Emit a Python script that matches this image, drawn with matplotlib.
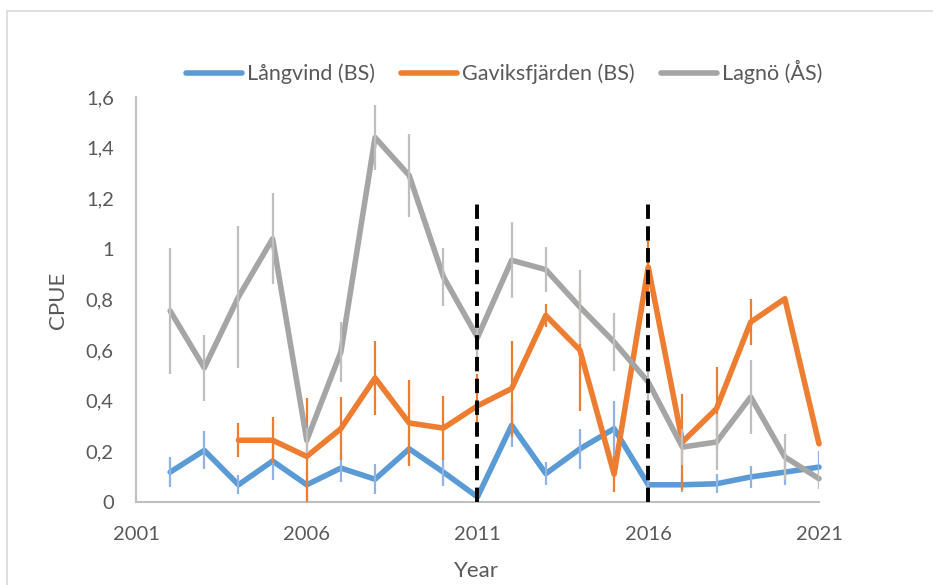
import numpy as np
import matplotlib
matplotlib.use("Agg")
import matplotlib.pyplot as plt
from matplotlib.patches import Rectangle

nan = np.nan
years = list(range(2002, 2022))
langvind = [0.118, 0.204, 0.068, 0.162, 0.068, 0.134, 0.09, 0.21, 0.118, 0.02,
            0.303, 0.112, 0.21, 0.29, 0.068, 0.068, 0.072, 0.099, 0.118, 0.138]
langvind_err = [0.06, 0.075, 0.038, 0.075, 0.05, 0.056, 0.06, 0.06, 0.055, 0.03,
                0.085, 0.045, 0.08, 0.11, 0.03, 0.03, 0.038, 0.043, 0.05, 0.065]
gaviks = [nan, nan, 0.244, 0.244, 0.18, 0.29, 0.49, 0.312, 0.292, 0.38,
          0.448, 0.737, 0.6, 0.11, 0.928, 0.237, 0.369, 0.711, 0.803, 0.23]
gaviks_err = [nan, nan, 0.067, 0.09, 0.23, 0.125, 0.145, 0.17, 0.125, 0.125,
              0.19, 0.045, 0.24, 0.07, 0.105, 0.19, 0.165, 0.09, 0.0, 0.0]
lagno = [0.755, 0.53, 0.81, 1.04, 0.244, 0.593, 1.44, 1.29, 0.89, 0.65,
         0.955, 0.918, 0.77, 0.632, 0.474, 0.217, 0.237, 0.415, 0.178, 0.092]
lagno_err = [0.25, 0.13, 0.28, 0.18, 0.05, 0.12, 0.13, 0.165, 0.115, 0.08,
             0.15, 0.09, 0.145, 0.115, 0.08, 0.07, 0.11, 0.145, 0.09, 0.04]
series_names = ["Långvind (BS)", "Gaviksfjärden (BS)", "Lagnö (ÅS)"]
period_lines = [2011, 2016]
xticks = [2001, 2006, 2011, 2016, 2021]
yticks = [0, 0.2, 0.4, 0.6, 0.8, 1.0, 1.2, 1.4, 1.6]
ytick_labels = ["0", "0,2", "0,4", "0,6", "0,8", "1", "1,2", "1,4", "1,6"]

plt.rcParams['font.family'] = ['Lato', 'DejaVu Sans']
W, H = 933, 585
fig = plt.figure(figsize=(W / 100, H / 100), dpi=100)
fig.patch.set_facecolor('white')
fig.add_artist(Rectangle((7 / W, -0.05), 1.1, 1 - 11 / H + 0.05, transform=fig.transFigure,
                         fill=False, edgecolor='#D9D9D9', linewidth=1.2))

ax = fig.add_axes([136 / W, 1 - 502 / H, (819 - 136) / W, (502 - 97) / H])
ax.set_xlim(2001, 2021)
ax.set_ylim(0, 1.6)

text_col = '#595959'
specs = [
    (langvind, langvind_err, '#5B9BD5', '#8FB4E3'),
    (gaviks, gaviks_err, '#ED7D31', '#ED7D31'),
    (lagno, lagno_err, '#A5A5A5', '#BFBFBF'),
]
handles = []
for (vals, errs, col, ecol), name in zip(specs, series_names):
    ln, = ax.plot(years, vals, color=col, lw=4.0, solid_joinstyle='round',
                  solid_capstyle='round', label=name, zorder=3, clip_on=False)
    ax.errorbar(years, vals, yerr=errs, fmt='none', ecolor=ecol, elinewidth=1.6,
                capsize=0, zorder=3)
    handles.append(ln)

ax.vlines(period_lines, 0, 1.2, colors='black', linestyles=(0, (3.7, 1.9)),
          linewidth=2.8, zorder=5)

for s in ['top', 'right']:
    ax.spines[s].set_visible(False)
for s in ['left', 'bottom']:
    ax.spines[s].set_color('#BFBFBF')
    ax.spines[s].set_linewidth(1.5)

ax.set_xticks(xticks)
ax.set_xticklabels([str(x) for x in xticks])
ax.set_yticks(yticks)
ax.set_yticklabels(ytick_labels)
ax.tick_params(axis='both', length=0, colors=text_col, labelsize=14.5)
ax.tick_params(axis='x', pad=17)
ax.tick_params(axis='y', pad=16)

fig.text(58 / W, 1 - 300 / H, "CPUE", rotation=90, ha='center', va='center',
         fontsize=16, color=text_col)
fig.text(476 / W, 1 - 571 / H, "Year", ha='center', va='center',
         fontsize=16, color=text_col)

leg = fig.legend(handles=handles, labels=series_names, loc='center',
                 bbox_to_anchor=(504 / W, 1 - 72 / H), ncol=3, frameon=False,
                 fontsize=15.5, handlelength=2.6, handletextpad=0.25,
                 columnspacing=1.2)
for t in leg.get_texts():
    t.set_color(text_col)

fig.savefig('out.png', dpi=100, facecolor='white')
